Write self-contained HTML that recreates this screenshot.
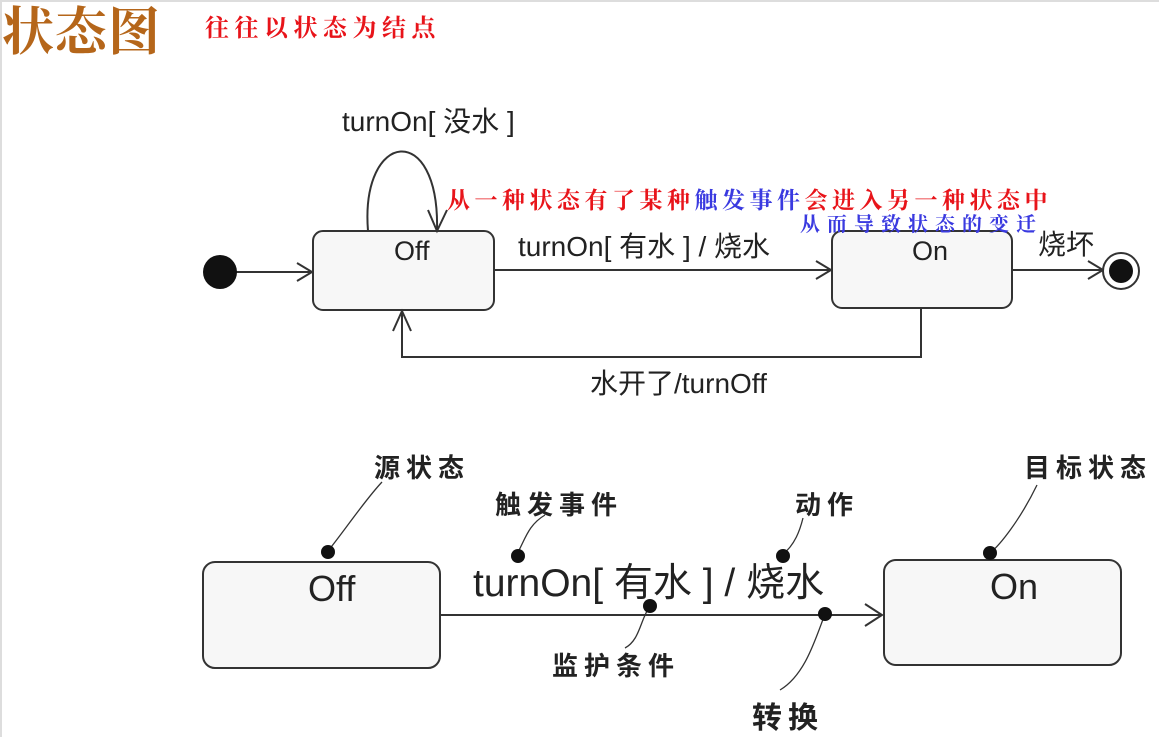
<!DOCTYPE html>
<html><head><meta charset="utf-8"><style>
html,body{margin:0;padding:0;background:#fff;}
svg{display:block}
text{font-family:"Liberation Sans","Noto Sans CJK SC",sans-serif;}
.s{font-family:"Noto Serif CJK SC","Liberation Serif",serif;}
</style></head><body>
<svg width="1159" height="737" viewBox="0 0 1159 737" xmlns="http://www.w3.org/2000/svg">
<rect width="1159" height="737" fill="#fff"/>
<rect x="0" y="0" width="1159" height="2" fill="#ddd"/>
<rect x="0" y="0" width="2" height="737" fill="#ddd"/>
<text x="2" y="50" class="s" font-size="52" font-weight="bold" fill="#b5661a" letter-spacing="1">状态图</text>
<text x="205" y="36" class="s" font-size="24" font-weight="bold" fill="#e8141a" letter-spacing="5.5">往往以状态为结点</text>

<g stroke="#333" stroke-width="2" fill="none">
<rect x="313" y="231" width="181" height="79" rx="10" fill="#f7f7f7"/>
<rect x="832" y="231" width="180" height="77" rx="10" fill="#f7f7f7"/>
<line x1="215" y1="272" x2="312" y2="272"/>
<polyline points="297,263 312,272 297,281"/>
<line x1="494" y1="270" x2="831" y2="270"/>
<polyline points="816,261 831,270 816,279"/>
<line x1="1012" y1="270" x2="1103" y2="270"/>
<polyline points="1088,261 1103,270 1088,279"/>
<path d="M368,231 C360,130 440,120 437,231"/>
<polyline points="428,210 437,231 447,210"/>
<polyline points="921,309 921,357 402,357 402,311"/>
<polyline points="393,331 402,311 411,331"/>
<rect x="203" y="562" width="237" height="106" rx="12" fill="#f7f7f7"/>
<rect x="884" y="560" width="237" height="105" rx="12" fill="#f7f7f7"/>
<line x1="440" y1="615" x2="882" y2="615"/>
<polyline points="865,604 882,615 865,626"/>
<path d="M328,551 C345,530 365,500 382,482" stroke-width="1.3"/>
<path d="M517,554 C525,540 528,525 545,515" stroke-width="1.3"/>
<path d="M782,555 C795,545 800,530 803,518" stroke-width="1.3"/>
<path d="M650,606 C640,620 640,640 625,648" stroke-width="1.3"/>
<path d="M825,614 C815,640 805,675 780,690" stroke-width="1.3"/>
<path d="M990,553 C1000,545 1020,520 1037,485" stroke-width="1.3"/>
</g>
<circle cx="220" cy="272" r="17" fill="#111"/>
<circle cx="1121" cy="271" r="18" fill="#fff" stroke="#333" stroke-width="2"/>
<circle cx="1121" cy="271" r="12" fill="#111"/>
<g fill="#111">
<circle cx="328" cy="552" r="7"/><circle cx="518" cy="556" r="7"/>
<circle cx="783" cy="556" r="7"/><circle cx="650" cy="606" r="7"/>
<circle cx="825" cy="614" r="7"/><circle cx="990" cy="553" r="7"/>
</g>

<g font-size="28" fill="#222">
<text x="342" y="131">turnOn[ 没水 ]</text>
<text x="518" y="256">turnOn[ 有水 ] / 烧水</text>
<text x="1038" y="254">烧坏</text>
<text x="590" y="393">水开了/turnOff</text>
</g>
<g font-size="27" fill="#222">
<text x="394" y="260">Off</text>
<text x="912" y="260">On</text>
</g>
<g font-size="36" fill="#222">
<text x="308" y="601">Off</text>
<text x="990" y="599">On</text>
<text x="473" y="596" font-size="39">turnOn[ 有水 ] / 烧水</text>
</g>
<g class="s" font-size="26" font-weight="bold" fill="#222" letter-spacing="6">
<text x="374" y="477">源状态</text>
<text x="495" y="514">触发事件</text>
<text x="795" y="514">动作</text>
<text x="1024" y="477">目标状态</text>
<text x="552" y="675">监护条件</text>
<text x="752" y="728" font-size="30">转换</text>
</g>
<text x="447" y="208" class="s" font-size="23" font-weight="bold" fill="#e8141a" letter-spacing="4.5">从一种状态有了某种<tspan fill="#3a3ae0">触发事件</tspan>会进入另一种状态中</text>
<text x="800" y="231" class="s" font-size="20" font-weight="bold" fill="#3a3ae0" letter-spacing="7">从而导致状态的变迁</text>
</svg>
</body></html>
